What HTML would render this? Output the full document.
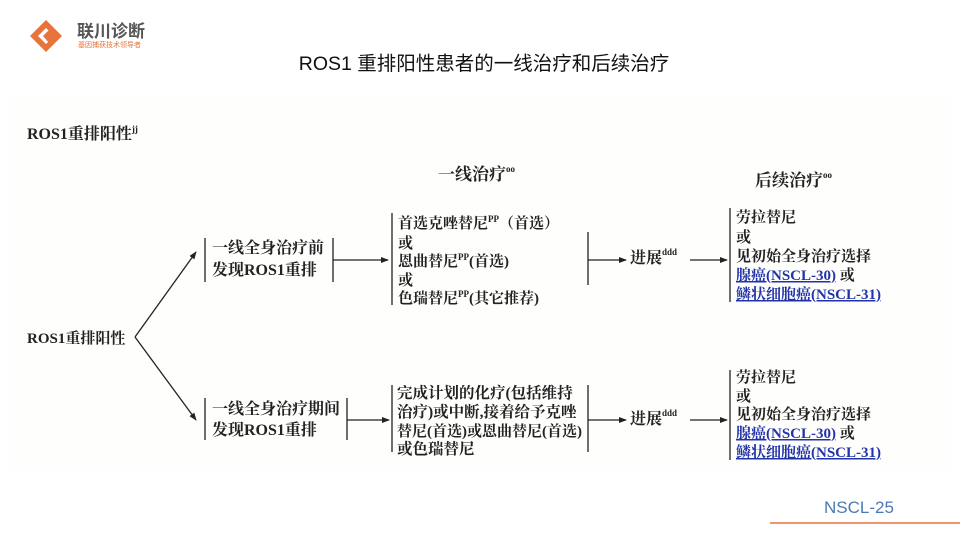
<!DOCTYPE html>
<html><head><meta charset="utf-8"><style>
html,body{margin:0;padding:0;background:#fff;}
svg{display:block;}
.t{font-family:"Liberation Serif","Noto Serif CJK SC",serif;font-weight:bold;fill:#222;font-size:15px;}
.l{fill:#2233aa;text-decoration:underline;}
.s{font-size:9px;}
</style></head><body>
<svg width="960" height="540" viewBox="0 0 960 540" xmlns="http://www.w3.org/2000/svg">
<defs><marker id="a" markerWidth="8" markerHeight="8" refX="7" refY="4" orient="auto" markerUnits="userSpaceOnUse"><path d="M0,1 L8,4 L0,7 z" fill="#222"/></marker></defs>
<rect x="0" y="0" width="960" height="540" fill="#fff"/>
<rect x="10" y="96" width="940" height="376" fill="#fefefd"/>
<g transform="translate(46,36)">
<path d="M-16,0 L0,-16 L16,0 L0,16 Z" fill="#e8743b"/>
<path d="M-8,0 L0,-8 L8,0 L0,8 Z" fill="#fff"/>
<path d="M-3,0 L3,-6 L10,1 L3,7 Z" fill="#e8743b"/>
</g>
<text x="77" y="37" style="font-family:'Noto Sans CJK SC',sans-serif;font-weight:bold;font-size:17px;fill:#555">联川诊断</text>
<text x="78" y="47" style="font-family:'Noto Sans CJK SC',sans-serif;font-size:7px;fill:#e8743b">基因捕获技术领导者</text>
<text x="484" y="70" text-anchor="middle" style="font-family:'Liberation Sans','Noto Sans CJK SC',sans-serif;font-size:19.5px;fill:#111">ROS1 重排阳性患者的一线治疗和后续治疗</text>
<text x="27" y="139" class="t" style="font-size:16px">ROS1重排阳性<tspan class="s" dy="-7">jj</tspan></text>
<text x="438" y="180" class="t" style="font-size:17px">一线治疗<tspan class="s" dy="-8">oo</tspan></text>
<text x="755" y="186" class="t" style="font-size:17px">后续治疗<tspan class="s" dy="-8">oo</tspan></text>
<g stroke="#222" stroke-width="1.3" fill="none">
<line x1="135" y1="337" x2="196" y2="252" marker-end="url(#a)"/>
<line x1="135" y1="337" x2="196" y2="420" marker-end="url(#a)"/>
<line x1="205" y1="238" x2="205" y2="282"/><line x1="333" y1="238" x2="333" y2="282"/>
<line x1="333" y1="260" x2="388" y2="260" marker-end="url(#a)"/>
<line x1="392" y1="213" x2="392" y2="305"/>
<line x1="588" y1="232" x2="588" y2="285"/>
<line x1="588" y1="260" x2="626" y2="260" marker-end="url(#a)"/>
<line x1="690" y1="260" x2="727" y2="260" marker-end="url(#a)"/>
<line x1="730" y1="208" x2="730" y2="302"/>
<line x1="205" y1="398" x2="205" y2="440"/><line x1="347" y1="398" x2="347" y2="440"/>
<line x1="347" y1="420" x2="389" y2="420" marker-end="url(#a)"/>
<line x1="392" y1="385" x2="392" y2="452"/><line x1="588" y1="385" x2="588" y2="452"/>
<line x1="588" y1="420" x2="626" y2="420" marker-end="url(#a)"/>
<line x1="690" y1="420" x2="727" y2="420" marker-end="url(#a)"/>
<line x1="730" y1="370" x2="730" y2="460"/>
</g>
<text x="27" y="343" class="t">ROS1重排阳性</text>
<text x="212" y="253" class="t" style="font-size:16px">一线全身治疗前</text>
<text x="212" y="275" class="t" style="font-size:16px">发现ROS1重排</text>
<text x="398" y="228" class="t">首选克唑替尼<tspan class="s" dy="-6">PP</tspan><tspan dy="6">（首选）</tspan></text>
<text x="398" y="248" class="t">或</text>
<text x="398" y="266" class="t">恩曲替尼<tspan class="s" dy="-6">PP</tspan><tspan dy="6">(首选)</tspan></text>
<text x="398" y="285" class="t">或</text>
<text x="398" y="303" class="t">色瑞替尼<tspan class="s" dy="-6">PP</tspan><tspan dy="6">(其它推荐)</tspan></text>
<text x="630" y="263" class="t" style="font-size:16px">进展<tspan class="s" dy="-8">ddd</tspan></text>
<text x="736" y="222" class="t">劳拉替尼</text>
<text x="736" y="242" class="t">或</text>
<text x="736" y="261" class="t">见初始全身治疗选择</text>
<text x="736" y="280" class="t"><tspan class="l">腺癌(NSCL-30)</tspan> 或</text>
<text x="736" y="299" class="t l">鳞状细胞癌(NSCL-31)</text>
<text x="212" y="414" class="t" style="font-size:16px">一线全身治疗期间</text>
<text x="212" y="435" class="t" style="font-size:16px">发现ROS1重排</text>
<text x="397" y="398" class="t" style="font-size:15.5px">完成计划的化疗(包括维持</text>
<text x="397" y="417" class="t" style="font-size:15.5px">治疗)或中断,接着给予克唑</text>
<text x="397" y="436" class="t" style="font-size:15px">替尼(首选)或恩曲替尼(首选)</text>
<text x="397" y="454" class="t" style="font-size:15.5px">或色瑞替尼</text>
<text x="630" y="424" class="t" style="font-size:16px">进展<tspan class="s" dy="-8">ddd</tspan></text>
<text x="736" y="382" class="t">劳拉替尼</text>
<text x="736" y="401" class="t">或</text>
<text x="736" y="419" class="t">见初始全身治疗选择</text>
<text x="736" y="438" class="t"><tspan class="l">腺癌(NSCL-30)</tspan> 或</text>
<text x="736" y="457" class="t l">鳞状细胞癌(NSCL-31)</text>
<text x="824" y="513" style="font-family:'Liberation Sans',sans-serif;font-size:17px;fill:#4a7ab5">NSCL-25</text>
<line x1="770" y1="523" x2="960" y2="523" stroke="#e8743b" stroke-width="1.5"/>
</svg>
</body></html>
